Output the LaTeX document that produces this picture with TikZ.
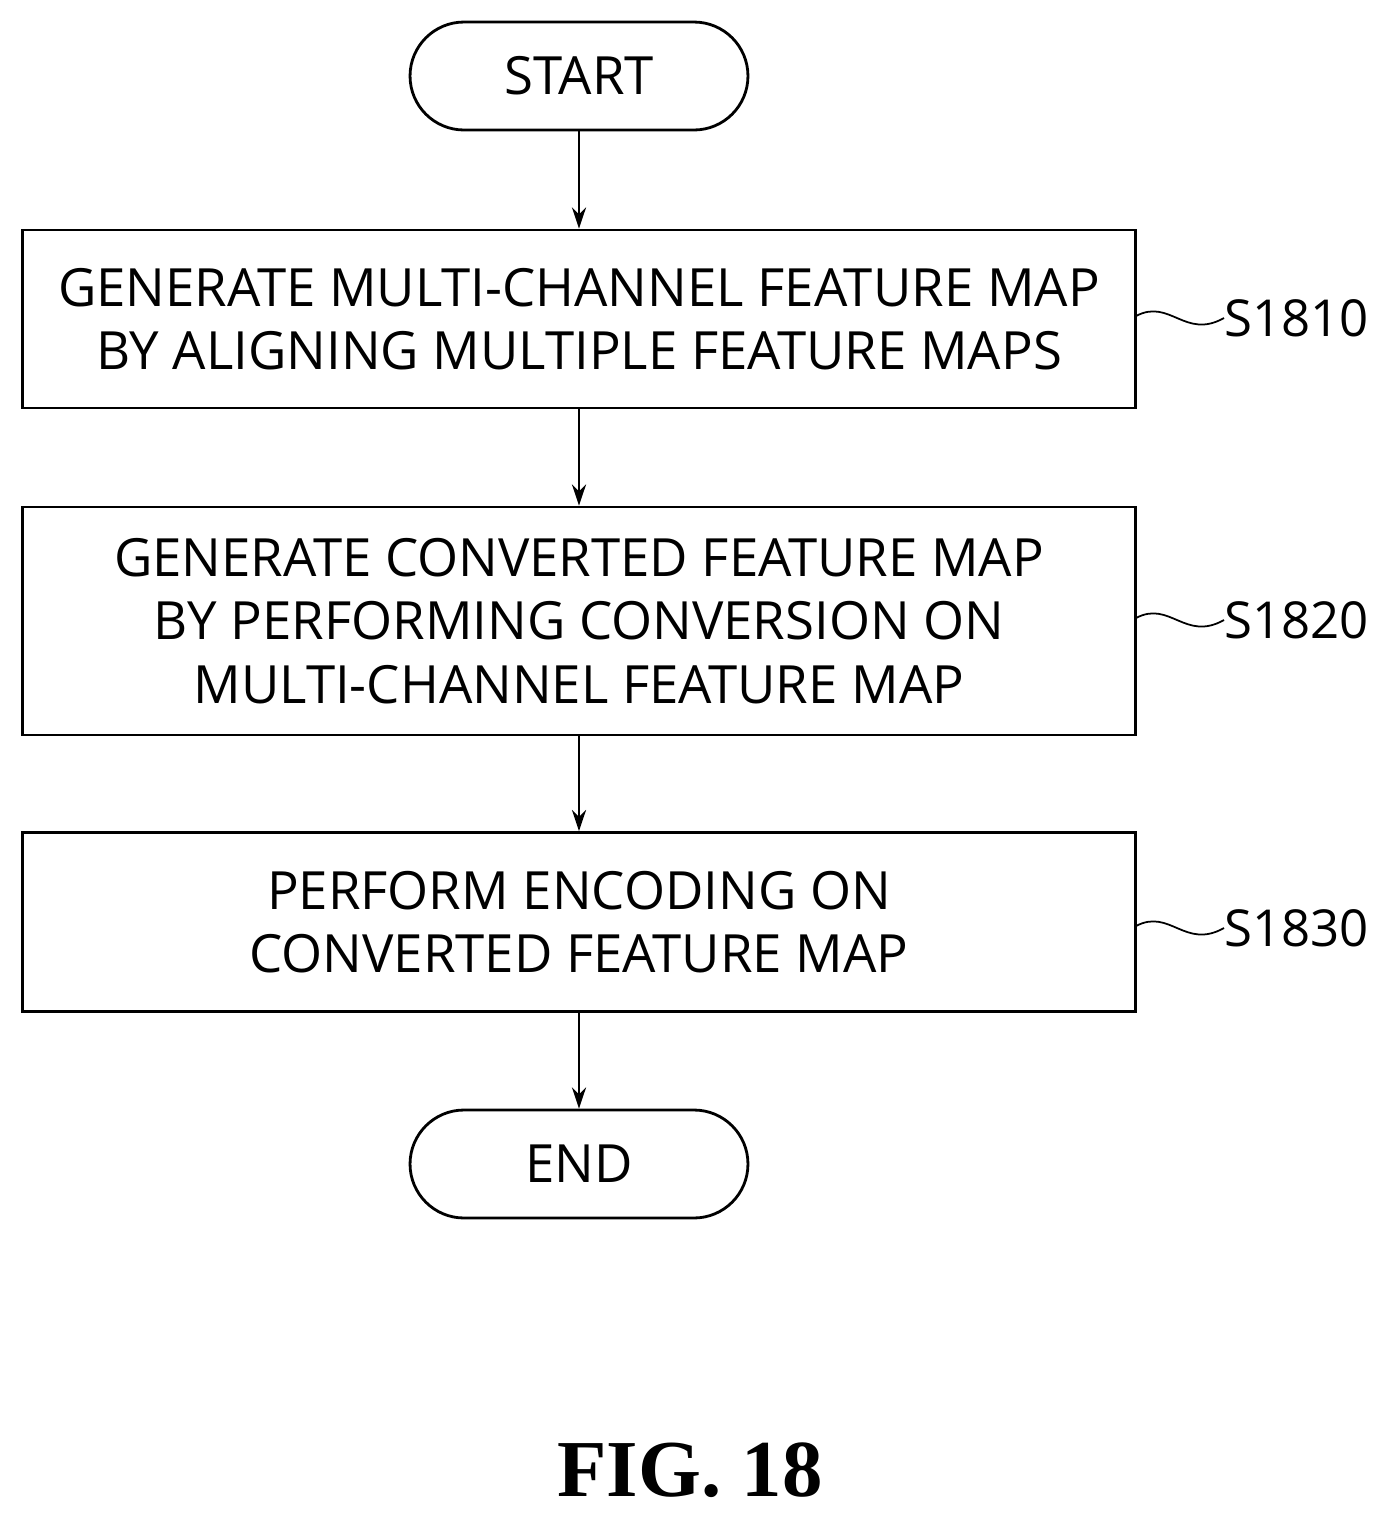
\documentclass[tikz,border=0pt]{standalone}
\usetikzlibrary{arrows.meta}
\usepackage{fontspec}
\setmainfont{Open Sans}
\newfontfamily\figfont{Liberation Serif}
\begin{document}
\begin{tikzpicture}[x=0.02cm,y=-0.02cm,
  box/.style={draw,line width=1.6pt,minimum width=22.28cm,align=center,inner sep=0pt,font=\fontsize{30}{36}\selectfont},
  term/.style={draw,line width=1.6pt,rounded corners=1.08cm,minimum width=6.76cm,minimum height=2.16cm,inner sep=0pt,font=\fontsize{30}{36}\selectfont},
  arr/.style={line width=1.4pt,-{Stealth[length=12pt,width=8pt]}},
  lab/.style={font=\fontsize{29}{34}\selectfont,anchor=west,inner sep=0pt},
  sq/.style={line width=1pt}]
\useasboundingbox (0,0) rectangle (1387,1519);
\node[term] (start) at (579,76) {START};
\node[box,minimum height=3.56cm] (b1) at (579,319) {GENERATE MULTI-CHANNEL FEATURE MAP\\BY ALIGNING MULTIPLE FEATURE MAPS};
\node[box,minimum height=4.56cm] (b2) at (579,621) {GENERATE CONVERTED FEATURE MAP\\BY PERFORMING CONVERSION ON\\MULTI-CHANNEL FEATURE MAP};
\node[box,minimum height=3.58cm] (b3) at (579,922) {PERFORM ENCODING ON\\CONVERTED FEATURE MAP};
\node[term] (end) at (579,1164) {END};
\draw[arr] (start) -- (b1);
\draw[arr] (b1) -- (b2);
\draw[arr] (b2) -- (b3);
\draw[arr] (b3) -- (end);
\foreach \b/\y/\t in {b1/318/S1810,b2/620/S1820,b3/928/S1830}{
  \node[lab] (l\t) at (1224,\y) {\t};
  \coordinate (c\t) at (1136,{\y-2});
  \draw[sq] (c\t) .. controls (1170,{\y-20}) and (1185,{\y+22}) .. (l\t.west);
}
\node[font=\figfont\bfseries\fontsize{46}{50}\selectfont] (fig) at (690,1470) {FIG. 18};
\end{tikzpicture}
\end{document}
